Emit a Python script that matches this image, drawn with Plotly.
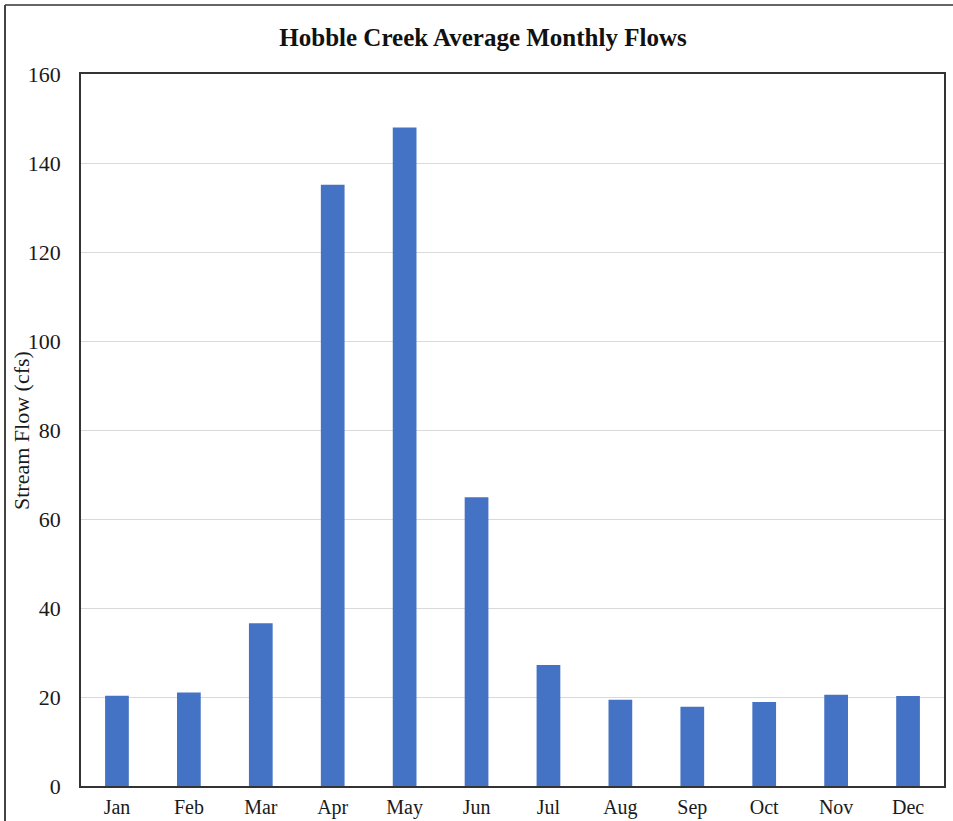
import plotly.graph_objects as go

months = ["Jan", "Feb", "Mar", "Apr", "May", "Jun", "Jul", "Aug", "Sep", "Oct", "Nov", "Dec"]
flows = [20.3, 21.0, 36.6, 135.1, 148.0, 64.9, 27.2, 19.4, 17.8, 18.9, 20.5, 20.2]
y_ticks = [0, 20, 40, 60, 80, 100, 120, 140, 160]

W, H = 953, 821
L, R, T, B = 81, 9, 74, 35
pw, ph = W - L - R, H - T - B

def px_x(x):
    return (x - L) / pw

def px_y(y):
    return 1 - (y - T) / ph

font = "Liberation Serif, Times New Roman, serif"

fig = go.Figure(go.Bar(
    x=months, y=flows,
    marker=dict(color="#4472C4", line=dict(width=0)),
    width=0.33,
))

fig.update_layout(
    width=W, height=H,
    margin=dict(l=L, r=R, t=T, b=B, autoexpand=False),
    paper_bgcolor="white", plot_bgcolor="white",
    font=dict(family=font, size=21, color="#1a1a1a"),
    title=dict(text="<b>Hobble Creek Average Monthly Flows</b>",
               x=483 / W, xanchor="center", y=1 - 37 / H, yanchor="middle",
               font=dict(family=font, size=25, color="#111111")),
    showlegend=False,
    xaxis=dict(showline=True, linecolor="#333333", linewidth=1.5, mirror=True,
               ticks="", tickfont=dict(size=20), showgrid=False, automargin=False,
               ticklabelstandoff=2),
    yaxis=dict(range=[0, 160], tickvals=y_ticks, showline=True, linecolor="#333333",
               linewidth=1.5, mirror=True, ticks="", showgrid=True, gridcolor="#D9D9D9",
               gridwidth=1, tickfont=dict(size=22), zeroline=False, automargin=False,
               ticklabelstandoff=14),
    annotations=[
        dict(text="Stream Flow (cfs)", xref="paper", yref="paper",
             x=px_x(21), y=0.5, xanchor="center", yanchor="middle",
             textangle=-90, showarrow=False, font=dict(family=font, size=22, color="#1a1a1a")),
    ],
    shapes=[
        dict(type="line", xref="paper", yref="paper",
             x0=px_x(5), x1=px_x(960), y0=px_y(5), y1=px_y(5),
             line=dict(color="#666666", width=2)),
        dict(type="line", xref="paper", yref="paper",
             x0=px_x(5), x1=px_x(5), y0=px_y(5), y1=px_y(830),
             line=dict(color="#444444", width=2)),
    ],
)

fig.write_html("out.html")
